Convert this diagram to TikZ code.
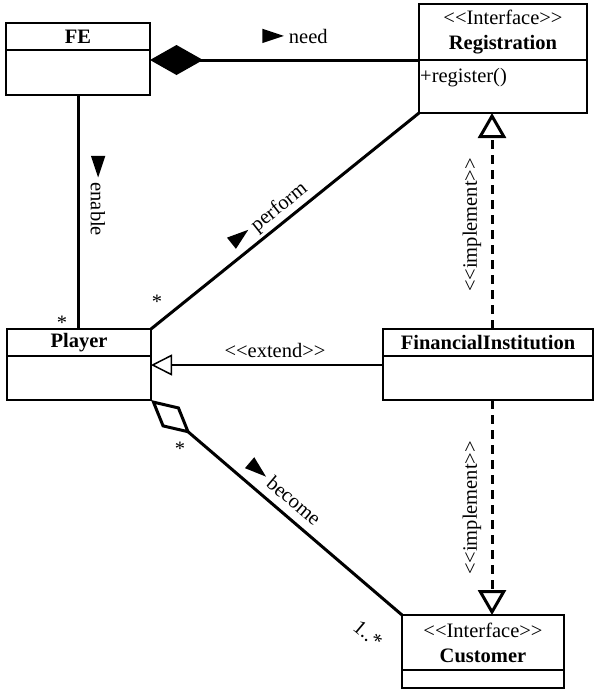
\documentclass[tikz,border=0pt]{standalone}
\usepackage{fontspec}
\setmainfont{Liberation Serif}[Ligatures=TeXOff]
\usetikzlibrary{arrows.meta,positioning}

\newcommand{\tri}{\tikz[baseline]\fill (0,0) -- (0,0.7em) -- (1.05em,0.35em) -- cycle;}

\begin{document}
\begin{tikzpicture}[x=1pt,y=-1pt,
    every node/.style={font=\fontsize{20.5}{25}\selectfont},
    ctitle/.style={draw,line width=1.5pt,outer sep=0pt,inner sep=0pt,align=center,
                   font=\fontsize{20.5}{25}\selectfont\bfseries},
    cbody/.style={draw,line width=1.5pt,outer sep=0pt,inner sep=0pt},
    lbl/.style={inner sep=0pt},
    assoc/.style={line width=3pt},
    compo/.style={assoc,-{Diamond[length=53pt,width=30pt]}},
    aggr/.style={assoc,{Diamond[open,length=52pt,width=27pt]}-},
    realize/.style={assoc,dash pattern=on 9pt off 6pt,-{Triangle[open,length=25pt,width=28pt]}},
    extend/.style={line width=1.5pt,-{Triangle[open,length=21pt,width=21pt]}}]
\useasboundingbox (0,0) rectangle (596,689);

% classes
\node[ctitle,minimum width=144pt,minimum height=27pt] (fe) at (78,36.5) {FE};
\node[cbody,minimum width=144pt,minimum height=45pt,below=0pt of fe] (feb) {};

\node[ctitle,minimum width=168pt,minimum height=56pt] (reg) at (503,32) {{\mdseries <<Interface>>}\\Registration};
\node[cbody,minimum width=168pt,minimum height=53pt,below=0pt of reg,
      label={[lbl,anchor=north west,xshift=1pt,yshift=-8pt]north west:+register()}] (regb) {};

\node[ctitle,minimum width=144pt,minimum height=27pt] (pl) at (79,342.5) {Player};
\node[cbody,minimum width=144pt,minimum height=44pt,below=0pt of pl] (plb) {};

\node[ctitle,minimum width=210pt,minimum height=27pt] (fi) at (488,342.5) {FinancialInstitution};
\node[cbody,minimum width=210pt,minimum height=44pt,below=0pt of fi] (fib) {};

\node[ctitle,minimum width=162pt,minimum height=55pt] (cu) at (483,642.5) {{\mdseries <<Interface>>}\\Customer};
\node[cbody,minimum width=162pt,minimum height=18pt,below=0pt of cu] (cub) {};

% relations
\coordinate (ix) at (492,0);
\draw[compo] (reg.south west) -- (reg.south west -| feb.east);
\draw[assoc] (feb.south) -- (feb.south |- pl.north);
\draw[assoc] (pl.north east) -- (regb.south west);
\draw[extend] ([yshift=-9pt]fi.south west) -- ([yshift=-9pt]pl.south east);
\draw[aggr] (plb.south east) -- (cu.north west);
\draw[realize] (fi.north -| ix) -- (regb.south -| ix);
\draw[realize] (fib.south -| ix) -- (cu.north -| ix);

% labels
\node[lbl] (need) at (295,36) {\tri\ need};
\node[lbl,rotate=-90] (enable) at (98,196) {\tri\ enable};
\node[lbl,rotate=38.6] (perform) at (269,216) {\tri\ perform};
\node[lbl,rotate=-40.3] (become) at (284,492) {\tri\ become};
\node[lbl] (extendlbl) at (275,350) {<<extend>>};
\node[lbl,rotate=90] (impl1) at (472,225) {<<implement>>};
\node[lbl,rotate=90] (impl2) at (472,508) {<<implement>>};
\node[lbl] (m1) at (62,323) {*};
\node[lbl] (m2) at (157,302) {*};
\node[lbl] (m3) at (180,449) {*};
\node[lbl,rotate=-40] (m4) at (368,634) {1..*};
\end{tikzpicture}
\end{document}
